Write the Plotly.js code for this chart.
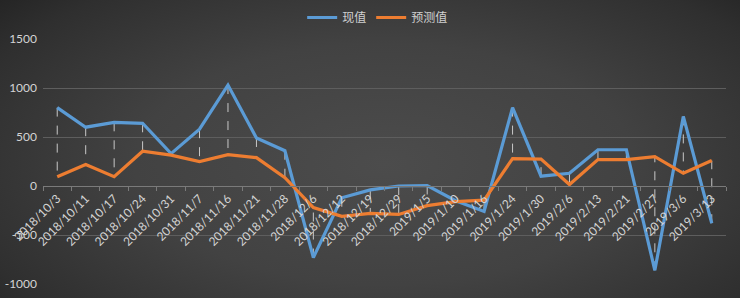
<!DOCTYPE html>
<html>
<head>
<meta charset="utf-8">
<script src="https://cdn.plot.ly/plotly-3.0.1.min.js"></script>
<style>
html,body{margin:0;padding:0;}
#chart{width:740px;height:298px;background:radial-gradient(ellipse 75% 90% at 52% 55%, #4c4c4c 0%, #424242 45%, #2f2f2f 80%, #1f1f1f 100%);}
</style>
</head>
<body>
<div id="chart"></div>
<script>
const categories = ["2018/10/3","2018/10/11","2018/10/17","2018/10/24","2018/10/31","2018/11/7","2018/11/16","2018/11/21","2018/11/28","2018/12/6","2018/12/12","2018/12/19","2018/12/29","2019/1/5","2019/1/10","2019/1/16","2019/1/24","2019/1/30","2019/2/6","2019/2/13","2019/2/21","2019/2/27","2019/3/6","2019/3/13"];
const actual   = [800, 600, 650, 640, 330, 580, 1030, 490, 360, -730, -120, -40, 0, 5, -150, -260, 800, 100, 130, 370, 370, -860, 710, -380];
const forecast = [95, 220, 95, 355, 315, 250, 320, 290, 85, -220, -310, -280, -290, -200, -160, -145, 280, 275, 15, 270, 270, 300, 130, 260];
const yTicks = [-1000, -500, 0, 500, 1000, 1500];

const hlX = [], hlY = [];
categories.forEach((c, i) => { hlX.push(c, c, null); hlY.push(actual[i], forecast[i], null); });

const font = "Lato, 'Noto Sans CJK SC', sans-serif";
const traces = [
  {x: hlX, y: hlY, type: 'scatter', mode: 'lines', showlegend: false, hoverinfo: 'skip',
   line: {color: '#c8c8c8', width: 1, dash: 'dash'}, connectgaps: false},
  {x: categories, y: actual, name: '现值', type: 'scatter', mode: 'lines',
   line: {color: '#5b9bd5', width: 3.2}},
  {x: categories, y: forecast, name: '预测值', type: 'scatter', mode: 'lines',
   line: {color: '#ed7d31', width: 3.2}}
];
const layout = {
  width: 740, height: 298,
  margin: {l: 43, r: 14, t: 39, b: 14},
  paper_bgcolor: 'rgba(0,0,0,0)', plot_bgcolor: 'rgba(0,0,0,0)',
  font: {family: font, color: '#d4d4d4', size: 11},
  showlegend: true,
  legend: {orientation: 'h', x: 0.49, xanchor: 'center', y: 0.99, yanchor: 'top',
           yref: 'container', font: {size: 12, color: '#d0d0d0', family: "'Noto Sans CJK SC', sans-serif"},
           bgcolor: 'rgba(0,0,0,0)'},
  xaxis: {type: 'category', range: [-0.5, categories.length - 0.5], anchor: 'free', position: 0.4, tickangle: -45,
          showgrid: false, showline: true, linecolor: '#7a7a7a', linewidth: 1,
          ticks: 'outside', tickson: 'boundaries', ticklen: 4, tickcolor: '#7a7a7a',
          tickfont: {size: 12, color: '#d4d4d4'}, zeroline: false, fixedrange: true},
  yaxis: {range: [-1000, 1500], tickvals: yTicks, ticktext: yTicks.map(String),
          showgrid: true, gridcolor: '#5e5e5e', gridwidth: 1, zeroline: false,
          showline: false, ticks: '', ticklabelstandoff: 5, tickfont: {size: 12, color: '#d4d4d4'}, fixedrange: true}
};
Plotly.newPlot('chart', traces, layout, {displayModeBar: false, staticPlot: true});
</script>
</body>
</html>
